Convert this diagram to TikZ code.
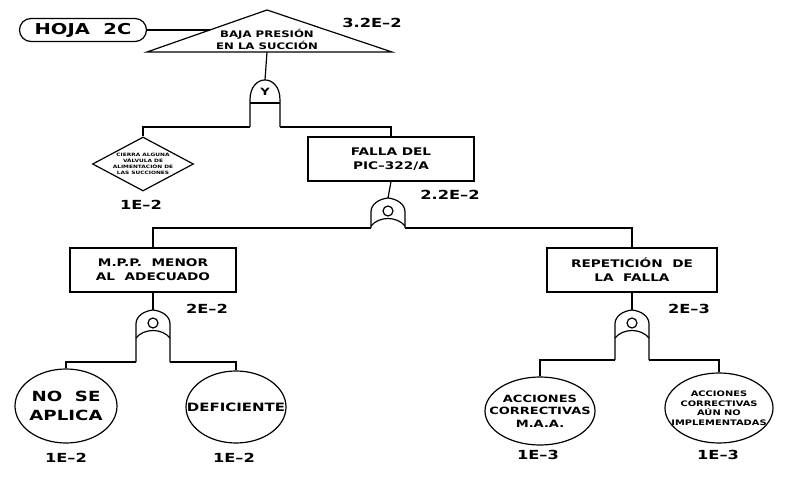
\documentclass[tikz,border=0pt]{standalone}
\usepackage{fontspec}
\setmainfont{DejaVu Sans}[FakeStretch=1.3]
\usetikzlibrary{shapes.geometric}

% OR gate: name, x, top, depth of the bus below the top
\newcommand{\orgate}[4]{%
  \begin{scope}[shift={(#2,#3)}]
    \draw (-17,#4) -- (-17,14) .. controls (-17,6) and (-9,1) .. (0,0)
      .. controls (9,1) and (17,6) .. (17,14) -- (17,#4);
    \draw (-17,28) .. controls (-9,18) and (9,18) .. (17,28);
    \draw (0,13) circle[radius=5];
    \coordinate (#1t) at (0,0);
    \coordinate (#1l) at (-17,#4);
    \coordinate (#1r) at (17,#4);
  \end{scope}}
% AND gate
\newcommand{\andgate}[4]{%
  \begin{scope}[shift={(#2,#3)}]
    \draw (-15,#4) -- (-15,20) .. controls (-15,-6.7) and (15,-6.7) .. (15,20) -- (15,#4);
    \draw (-15,23) -- (15,23);
    \node[font=\bfseries\fontsize{10}{12}\selectfont] (#1y) at (0,12) {Y};
    \coordinate (#1t) at (0,0);
    \coordinate (#1l) at (-15,#4);
    \coordinate (#1r) at (15,#4);
  \end{scope}}

\begin{document}
\begin{tikzpicture}[x=1pt, y=-1pt, line width=1.2pt,
    event/.style={draw, rectangle, align=center, minimum width=166pt, minimum height=44pt,
      font=\bfseries\fontsize{10.5}{14}\selectfont},
    basic/.style={draw, ellipse, align=center, inner sep=0pt},
    prob/.style={font=\bfseries\fontsize{12.5}{15}\selectfont}]
  \useasboundingbox (0,0) rectangle (789,478);

  % top event
  \node[draw, rounded corners=11.5pt, minimum width=127pt, minimum height=23pt,
    font=\bfseries\fontsize{15}{18}\selectfont] (hoja) at (83,30) {HOJA~~2C};
  \draw (147,52) -- (267,10) -- (392,52) -- cycle;
  \coordinate (tril) at (210,30);
  \coordinate (trib) at (267,52);
  \node[align=center, font=\bfseries\fontsize{9}{12}\selectfont] (baja) at (267,39)
    {BAJA PRESIÓN\\EN LA SUCCIÓN};
  \node[prob] (p0) at (372,23) {3.2E--2};
  \draw (hoja.east) -- (tril);

  \andgate{g1}{265}{80}{47}
  \draw (trib) -- (g1t);

  \node[draw, diamond, aspect=1.9, inner sep=-4pt, minimum width=101pt, minimum height=54pt,
    align=center, font=\bfseries\fontsize{4.5}{6}\selectfont] (cierra) at (143,164)
    {CIERRA ALGUNA\\VÁLVULA DE\\ALIMENTACIÓN DE\\LAS SUCCIONES};
  \node[prob] (p1) at (141,205) {1E--2};
  \node[event] (falla) at (391,159) {FALLA DEL\\PIC--322/A};
  \draw (g1l) -| (cierra.north);
  \draw (g1r) -| (falla.north);

  \orgate{g2}{388}{198}{30}
  \draw (falla.south) -- (g2t);
  \node[prob] (p2) at (450,195) {2.2E--2};

  \node[event] (mpp) at (153,270) {M.P.P.~~MENOR\\AL~~ADECUADO};
  \node[event, minimum width=170pt] (repe) at (632,270) {REPETICIÓN~~DE\\LA~~FALLA};
  \draw (g2l) -| (mpp.north);
  \draw (g2r) -| (repe.north);

  \orgate{g3}{153}{310}{52}
  \draw (mpp.south) -- (g3t);
  \node[prob] (p3) at (207,309) {2E--2};
  \node[basic, minimum width=102pt, minimum height=74pt, inner xsep=-8pt,
    font=\bfseries\fontsize{14}{19}\selectfont] (noap) at (66,406) {NO~~SE\\APLICA};
  \node[basic, minimum width=100pt, minimum height=72pt, inner xsep=-14pt,
    font=\bfseries\fontsize{11.5}{15}\selectfont] (defi) at (236,407) {DEFICIENTE};
  \draw (g3l) -| (noap.north);
  \draw (g3r) -| (defi.north);

  \orgate{g4}{632}{310}{50}
  \draw (repe.south) -- (g4t);
  \node[prob] (p4) at (689,309) {2E--3};
  \node[basic, minimum width=110pt, minimum height=68pt, inner xsep=-14pt, inner ysep=-6pt,
    font=\bfseries\fontsize{10}{12.5}\selectfont] (accm) at (540,411) {ACCIONES\\CORRECTIVAS\\M.A.A.};
  \node[basic, minimum width=108pt, minimum height=70pt, inner xsep=-16pt, inner ysep=-6pt,
    font=\bfseries\fontsize{7.6}{9.5}\selectfont] (accn) at (719,408)
    {ACCIONES\\CORRECTIVAS\\AÚN NO\\IMPLEMENTADAS};
  \draw (g4l) -| (accm.north);
  \draw (g4r) -| (accn.north);

  \foreach \n/\x/\y/\t in {p5/66/458/1E--2, p6/234/458/1E--2, p7/538/455/1E--3, p8/718/455/1E--3}
    \node[prob] (\n) at (\x,\y) {\t};
\end{tikzpicture}
\end{document}
